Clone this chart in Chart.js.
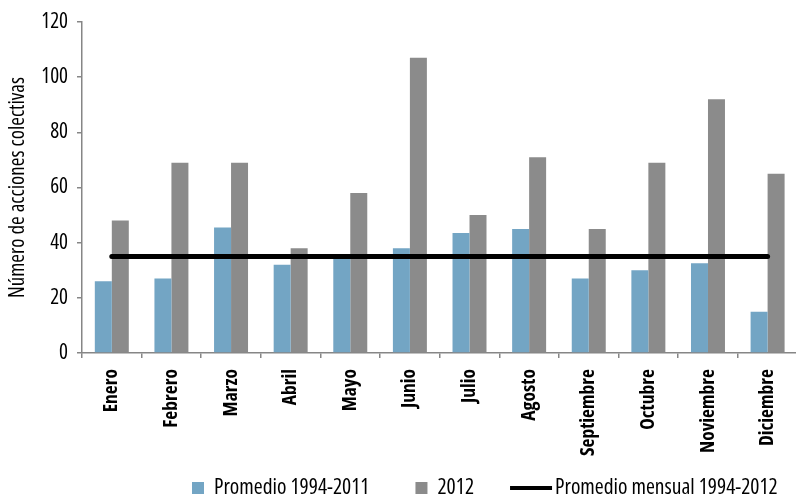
<!DOCTYPE html>
<html>
<head>
<meta charset="utf-8">
<script src="https://cdn.jsdelivr.net/npm/chart.js@4/dist/chart.umd.min.js"></script>
<style>
  html, body { margin: 0; padding: 0; background: #fff; overflow: hidden; }
  #wrap { width: 796px; height: 497px; overflow: hidden; }
</style>
</head>
<body>
<div id="wrap"><canvas id="chart" width="802" height="497"></canvas></div>
<script>
// Datos del gráfico
const meses = ["Enero", "Febrero", "Marzo", "Abril", "Mayo", "Junio", "Julio",
  "Agosto", "Septiembre", "Octubre", "Noviembre", "Diciembre"];
const promedio9411 = [26, 27, 45.5, 32, 35, 38, 43.5, 45, 27, 30, 32.5, 15];
const valores2012 = [48, 69, 69, 38, 58, 107, 50, 71, 45, 69, 92, 65];
const promedioMensual = [35, 35, 35, 35, 35, 35, 35, 35, 35, 35, 35, 35];
const yTicks = [0, 20, 40, 60, 80, 100, 120];

// Open Sans en ancho condensado (se pasa "condensed" dentro de weight)
const FONT = '"Open Sans", sans-serif';
const AXIS_COLOR = "#868686";

// Leyenda dibujada abajo, estilo Excel
const bottomLegend = {
  id: "bottomLegend",
  afterDraw: (chart) => {
    const ctx = chart.ctx;
    const area = chart.chartArea;
    const y = 488;
    const gaps = [46, 36, 0];
    let x = area.left + 110;
    ctx.save();
    ctx.font = "condensed 21.5px " + FONT;
    ctx.textBaseline = "middle";
    ctx.textAlign = "left";
    const items = [chart.data.datasets[1], chart.data.datasets[2], chart.data.datasets[0]];
    items.forEach((ds, i) => {
      if (ds.type === "line") {
        ctx.strokeStyle = ds.borderColor;
        ctx.lineWidth = 4;
        ctx.beginPath();
        ctx.moveTo(x, y);
        ctx.lineTo(x + 42, y);
        ctx.stroke();
        x += 45;
      } else {
        ctx.fillStyle = ds.backgroundColor;
        ctx.fillRect(x, y - 6, 12, 12);
        x += 22;
      }
      ctx.fillStyle = "#000";
      ctx.fillText(ds.label, x, y);
      x += ctx.measureText(ds.label).width + gaps[i];
    });
    ctx.restore();
  },
};

const ctx = document.getElementById("chart").getContext("2d");
const chart = new Chart(ctx, {
  type: "bar",
  data: {
    labels: meses,
    datasets: [
      {
        type: "line",
        label: "Promedio mensual 1994-2012",
        data: promedioMensual,
        borderColor: "#000",
        borderWidth: 5,
        borderCapStyle: "round",
        pointRadius: 0,
        fill: false,
        order: 0,
      },
      {
        label: "Promedio 1994-2011",
        data: promedio9411,
        backgroundColor: "#73A5C4",
        order: 1,
      },
      {
        label: "2012",
        data: valores2012,
        backgroundColor: "#8B8B8B",
        order: 1,
      },
    ],
  },
  plugins: [bottomLegend],
  options: {
    responsive: false,
    animation: false,
    layout: { padding: { top: 22, left: 0, right: 0, bottom: 0 } },
    datasets: {
      bar: { categoryPercentage: 0.57, barPercentage: 1.0 },
    },
    plugins: {
      legend: { display: false },
      tooltip: { enabled: false },
    },
    scales: {
      x: {
        afterFit: (scale) => { scale.height = 144; },
        grid: {
          display: true,
          drawOnChartArea: false,
          offset: true,
          tickLength: 5,
          color: AXIS_COLOR,
          lineWidth: 1.5,
        },
        border: { color: AXIS_COLOR, width: 1.5 },
        ticks: {
          autoSkip: false,
          minRotation: 90,
          maxRotation: 90,
          padding: 11,
          color: "#000",
          font: { family: FONT, size: 19.5, weight: "bold condensed" },
        },
      },
      y: {
        min: 0,
        max: 120,
        afterFit: (scale) => { scale.width = 82; },
        afterBuildTicks: (scale) => { scale.ticks = yTicks.map((v) => ({ value: v })); },
        grid: {
          display: true,
          drawOnChartArea: false,
          tickLength: 5,
          color: AXIS_COLOR,
          lineWidth: 1.5,
        },
        border: { color: AXIS_COLOR, width: 1.5 },
        ticks: {
          padding: 9,
          color: "#000",
          font: { family: FONT, size: 21, weight: "condensed" },
        },
        title: {
          display: true,
          text: "Número de acciones colectivas",
          color: "#000",
          font: { family: FONT, size: 21, weight: "condensed" },
          padding: { top: 5, bottom: 0 },
        },
      },
    },
  },
});
</script>
</body>
</html>
